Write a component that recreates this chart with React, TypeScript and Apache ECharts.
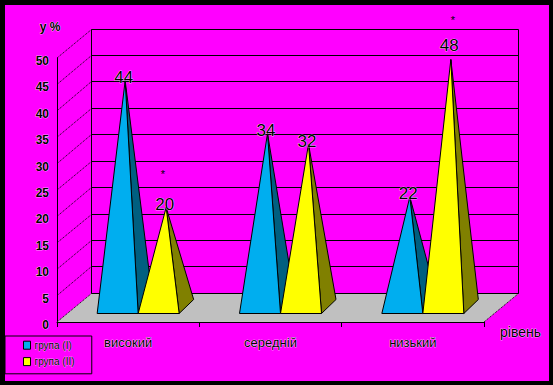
import React, { useEffect, useRef } from "react";
import * as echarts from "echarts";

const categories = ["високий", "середній", "низький"];
const groupNames = ["група (І)", "група (ІІ)"];
const groupOne = [44, 34, 22];
const groupTwo = [20, 32, 48];
const yTicks = [0, 5, 10, 15, 20, 25, 30, 35, 40, 45, 50];

const MAGENTA = "#ff00ff";
const BLUE = "#00aeef";
const BLUE_SIDE = "#005f80";
const YELLOW = "#ffff00";
const OLIVE = "#808000";
const GREY = "#c0c0c0";
const FONT = "'Liberation Sans', Arial, sans-serif";

const DEPTH_X = 34.5;
const DEPTH_Y = -28.8;

const lineShape = (a: number[], b: number[]) => ({ x1: a[0], y1: a[1], x2: b[0], y2: b[1] });
const crisp = (n: number) => Math.floor(n) + 0.5;

function renderWalls(params: any, api: any) {
  const v = api.value(0);
  const y = api.coord([0, v])[1];
  const backY = crisp(y + DEPTH_Y);
  const cs = params.coordSys;
  const x0 = cs.x;
  const x1 = cs.x + cs.width;
  const topBack = crisp(cs.y + DEPTH_Y);
  const children: any[] = [];
  if (v === 0) {
    children.push({
      type: "polygon",
      shape: {
        points: [
          [x0, y],
          [x0 + DEPTH_X, backY],
          [x1 + DEPTH_X, backY],
          [x1, y],
        ],
      },
      style: { fill: GREY, stroke: "none" },
    });
    children.push({
      type: "line",
      shape: lineShape([x1, y], [x1 + DEPTH_X, backY]),
      style: { stroke: "#000", lineWidth: 1, lineDash: [1, 1] },
    });
    children.push({
      type: "line",
      shape: lineShape([x1 + DEPTH_X, backY], [x1 + DEPTH_X, topBack]),
      style: { stroke: "#000", lineWidth: 1 },
    });
    children.push({
      type: "line",
      shape: lineShape([x0 + DEPTH_X, backY], [x0 + DEPTH_X, topBack]),
      style: { stroke: "#000", lineWidth: 1 },
    });
  }
  children.push({
    type: "line",
    shape: lineShape([x0 + DEPTH_X, backY], [x1 + DEPTH_X, backY]),
    style: { stroke: "#000", lineWidth: 1 },
  });
  children.push({
    type: "line",
    shape: lineShape([x0, y], [x0 + DEPTH_X, backY]),
    style: { stroke: "#000", lineWidth: 1, lineDash: [1, 1] },
  });
  return { type: "group", children };
}

function coneRenderer(shift: number, front: string, side: string) {
  return (_params: any, api: any) => {
    const idx = api.value(0);
    const v = api.value(1);
    const base = api.coord([idx, 0]);
    const top = api.coord([idx, v]);
    const halfWidth = 20.5;
    const cx = base[0] + shift;
    const by = crisp(base[1] - 9);
    const apex = [cx + 7.5, top[1] - 9];
    const left = [cx - halfWidth, by];
    const right = [cx + halfWidth, by];
    const back = [right[0] + 14.5, by - 14];
    const stroke = { stroke: "#000", lineWidth: 1 };
    return {
      type: "group",
      children: [
        { type: "polygon", shape: { points: [right, back, apex] }, style: { fill: side, ...stroke } },
        { type: "polygon", shape: { points: [left, right, apex] }, style: { fill: front, ...stroke } },
        {
          type: "text",
          style: {
            text: String(v),
            x: cx + 6,
            y: top[1] - (v === 48 ? 23 : 12),
            align: "center",
            verticalAlign: "middle",
            font: `17px ${FONT}`,
            fill: "#000",
            stroke: "#fff",
            lineWidth: 0.6,
          },
        },
      ],
    };
  };
}

export default function App() {
  const ref = useRef<HTMLDivElement>(null);
  useEffect(() => {
    document.body.style.margin = "0";
    const chart = echarts.init(ref.current!, undefined, { renderer: "svg" });
    chart.setOption({
      animation: false,
      textStyle: { fontFamily: FONT },
      grid: { left: 57, right: 69, top: 58, bottom: 63 },
      xAxis: {
        type: "category",
        data: categories,
        boundaryGap: true,
        name: "рівень",
        nameLocation: "end",
        nameGap: 16,
        nameTextStyle: {
          color: "#000",
          fontSize: 14,
          fontFamily: FONT,
          align: "left",
          verticalAlign: "top",
          padding: [3, 0, 0, 0],
          textBorderColor: "#fff",
          textBorderWidth: 0.6,
        },
        axisLine: { lineStyle: { color: "#000", width: 1 } },
        axisTick: { show: true, alignWithLabel: false, length: 5, lineStyle: { color: "#000" } },
        axisLabel: {
          color: "#000",
          fontSize: 13,
          margin: 14,
          textBorderColor: "#fff",
          textBorderWidth: 0.6,
        },
      },
      yAxis: {
        type: "value",
        min: 0,
        max: 50,
        interval: 5,
        name: "у %",
        nameLocation: "end",
        nameGap: 23,
        nameTextStyle: {
          color: "#000",
          fontSize: 12,
          fontWeight: "bold",
          fontFamily: FONT,
          align: "center",
          padding: [0, 14, 2, 0],
          textBorderColor: "#fff",
          textBorderWidth: 0.6,
        },
        splitLine: { show: false },
        axisLine: { show: true, lineStyle: { color: "#000", width: 1 } },
        axisTick: { show: false },
        axisLabel: {
          color: "#000",
          fontSize: 12,
          fontWeight: "bold",
          margin: 8,
          verticalAlign: "top",
          lineHeight: 6,
          textBorderColor: "#fff",
          textBorderWidth: 0.6,
        },
      },
      legend: {
        data: groupNames.map((name) => ({ name, icon: "rect" })),
        orient: "vertical",
        left: 5,
        top: 336,
        padding: [4, 17, 7, 18],
        itemGap: 6,
        itemWidth: 7,
        itemHeight: 8,
        borderColor: "#000",
        borderWidth: 1,
        backgroundColor: MAGENTA,
        textStyle: {
          color: "#000",
          fontSize: 10,
          fontFamily: FONT,
          textBorderColor: "#fff",
          textBorderWidth: 0.4,
          padding: [0, 0, 0, -1],
        },
        itemStyle: { borderColor: "#000", borderWidth: 1 },
      },
      graphic: [
        { type: "rect", z: -10, silent: true, shape: { x: 5, y: 5, width: 544, height: 376 }, style: { fill: MAGENTA } },
        { type: "text", z: 10, x: 163, y: 174, style: { text: "*", font: `11px ${FONT}`, fill: "#000", align: "center", verticalAlign: "middle" } },
        { type: "text", z: 10, x: 453, y: 20, style: { text: "*", font: `11px ${FONT}`, fill: "#000", align: "center", verticalAlign: "middle" } },
      ],
      series: [
        {
          type: "custom",
          name: "walls",
          z: 1,
          silent: true,
          clip: false,
          renderItem: renderWalls,
          encode: { y: 0 },
          data: yTicks.map((t) => [t]),
        },
        {
          type: "custom",
          name: groupNames[0],
          z: 2,
          clip: false,
          itemStyle: { color: BLUE },
          renderItem: coneRenderer(-10.5, BLUE, BLUE_SIDE),
          encode: { x: 0, y: 1 },
          data: groupOne.map((v, i) => [i, v]),
        },
        {
          type: "custom",
          name: groupNames[1],
          z: 3,
          clip: false,
          itemStyle: { color: YELLOW },
          renderItem: coneRenderer(30.5, YELLOW, OLIVE),
          encode: { x: 0, y: 1 },
          data: groupTwo.map((v, i) => [i, v]),
        },
      ],
    });
    return () => chart.dispose();
  }, []);
  return (
    <div style={{ position: "fixed", left: 0, top: 0, width: 553, height: 385, background: "#000" }}>
      <div ref={ref} style={{ width: 553, height: 385 }} />
    </div>
  );
}
